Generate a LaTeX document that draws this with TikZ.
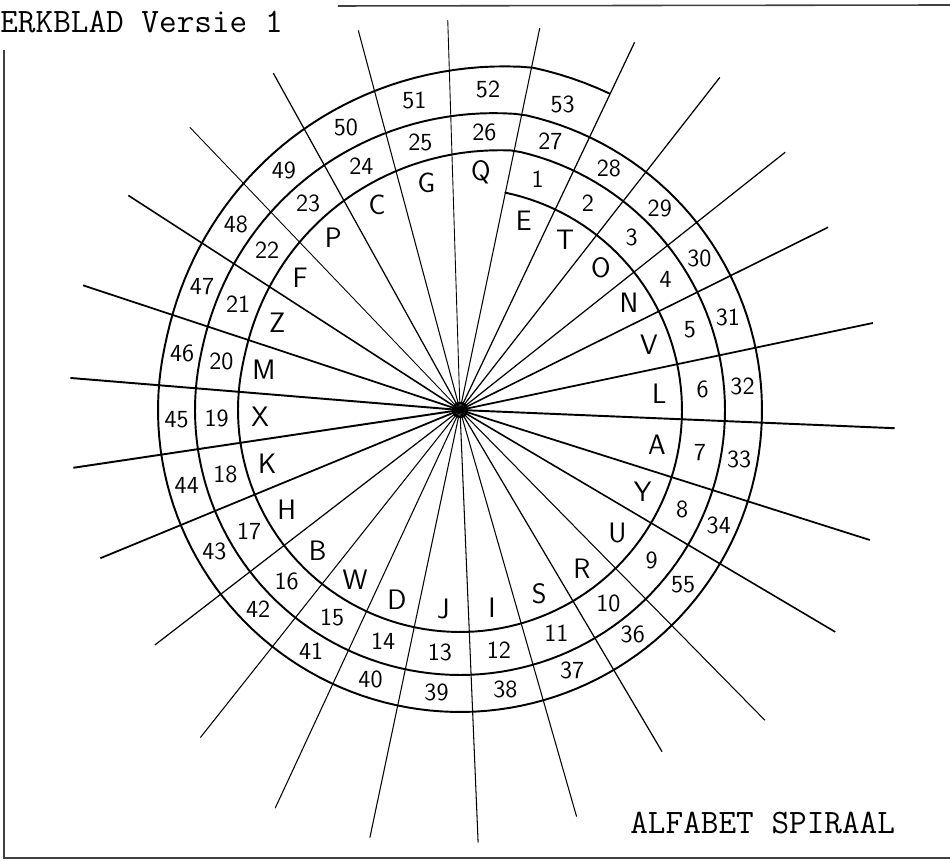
\documentclass[tikz,border=0pt]{standalone}
\usepackage{tikz}

\tikzset{
  ray/.style={line width=0.6pt},
  spiralline/.style={line width=1.1pt, line join=round, line cap=round},
  frame/.style={line width=0.9pt, black!75},
  letter/.style={font=\sffamily\fontsize{16}{16}\selectfont, inner sep=0pt},
  number/.style={font=\sffamily\fontsize{14}{14}\selectfont, inner sep=0pt},
  typed/.style={font=\ttfamily\fontsize{19.5}{21}\selectfont, inner sep=0pt, anchor=west}
}

\begin{document}
\begin{tikzpicture}[x=0.02cm, y=0.02cm,
    declare function={
      sprv(\v)=\v*sqrt(\v);
      sprise(\u)=sprv(max(0,min(\u,360)-270)/90);
      sprad(\s)=(\s<360) ? 222+43*sprise(\s) : ((\s<720) ? 265+37*sprise(\s-360) : 302+48*sprise(\s-720));
    }]
  \useasboundingbox (-460,-451) rectangle (490,410);
  \coordinate (hub) at (0,0);

  % page frame and typed texts
  \draw[frame] (-122,404) -- (490,405);
  \draw[frame] (-456,360) -- (-456,-448) -- (490,-448);
  \node[typed] (title) at (-460,388) {ERKBLAD Versie 1};
  \node[typed] (caption) at (170,-413) {ALFABET SPIRAAL};

  % spokes
  \foreach \a/\l/\w in {91.8/390/0.5, 105.0/393/0.6, 119.0/385/0.7, 133.7/391/0.5,
      147.1/395/0.9, 161.7/397/1.0, 175.3/391/1.1, 188.5/391/1.1, 202.4/389/1.0,
      217.6/385/0.7, 231.6/418/0.6, 245.1/439/0.6, 258.1/437/0.6, 272.4/433/0.6,
      286.0/423/0.6, 300.6/397/0.7, 314.5/435/0.6, 329.4/436/0.9, 342.4/430/1.0,
      357.6/435/1.1, 11.9/422/1.0, 26.4/411/0.9, 38.4/415/0.7, 52.0/422/0.7,
      64.6/407/0.7, 78.2/390/0.6} {
    \draw[ray, line width=\w pt] (hub) -- (\a:\l);
  }
  \draw[line width=1.4pt] (hub) circle (7);

  % the spiral, three turns
  \draw[spiralline] plot[domain=0:1093.4, samples=500] ({78.2-\x}:{sprad(\x)});

  % letters and numbers per sector
  \foreach \m/\t/\a/\b [count=\k] in {71.4/E/1/27, 58.3/T/2/28, 45.2/O/3/29,
      32.4/N/4/30, 19.15/V/5/31, 4.75/L/6/32, -10/A/7/33, -24.1/Y/8/34,
      -38.05/U/9/55, -52.45/R/10/36, -66.7/S/11/37, -80.8/I/12/38,
      -94.75/J/13/39, -108.4/D/14/40, -121.65/W/15/41, -135.4/B/16/42,
      -150/H/17/43, -164.55/K/18/44, -178.1/X/19/45, -191.5/M/20/46,
      -205.6/Z/21/47, -219.6/F/22/48, -233.65/P/23/49, -248/C/24/50,
      -261.6/G/25/51, -275/Q/26/52} {
    \pgfmathsetmacro\ph{78.2-\m}
    \pgfmathsetmacro\ra{sprad(\ph)-22}
    \pgfmathsetmacro\rb{(sprad(\ph)+sprad(\ph+360))/2}
    \pgfmathsetmacro\rc{(sprad(\ph+360)+sprad(\ph+720))/2}
    \node[letter] (ltr\k) at (\m:\ra) {\t};
    \node[number] (in\k) at (\m:\rb) {\a};
    \node[number] (out\k) at (\m:\rc) {\b};
  }
  \node[number] (out53) at (71.4:322) {53};
\end{tikzpicture}
\end{document}
